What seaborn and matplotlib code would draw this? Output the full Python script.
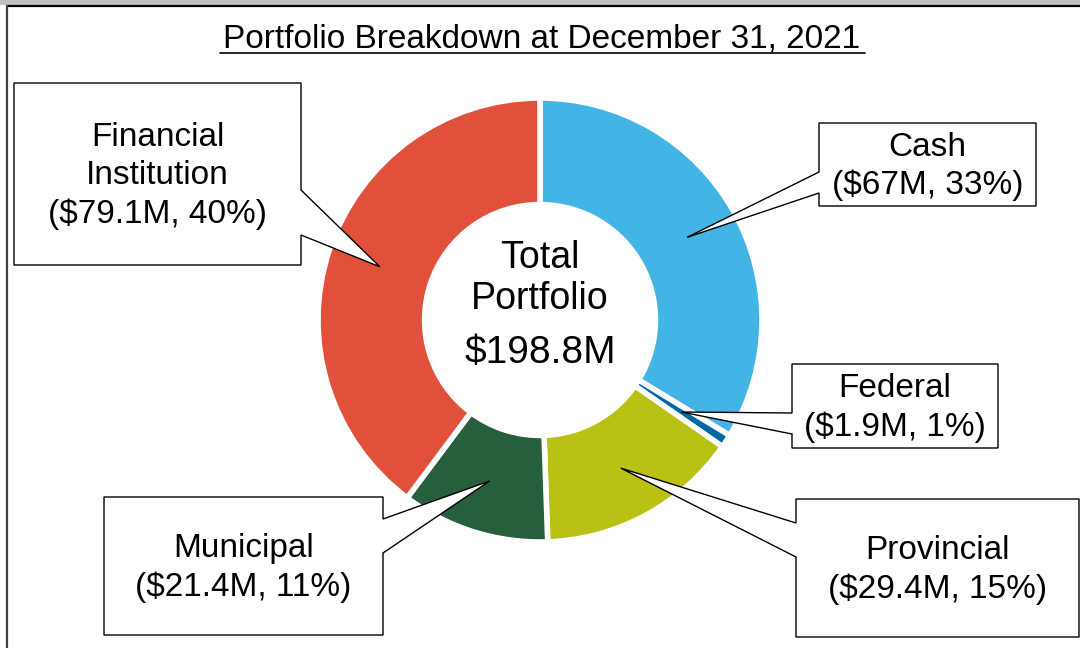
import seaborn as sns
import matplotlib.pyplot as plt
import numpy as np
from matplotlib.patches import Polygon, Rectangle

# data
categories = ['Cash', 'Federal', 'Provincial', 'Municipal', 'Financial\nInstitution']
amounts = [67, 1.9, 29.4, 21.4, 79.1]
percents = [33, 1, 15, 11, 40]
colors = ['#42B4E6', '#0067A3', '#B9C214', '#275E3B', '#E0503A']
total = 198.8
title = 'Portfolio Breakdown at December 31, 2021'

# callout boxes in pixels (x0, y0, x1, y1), side of pointer, pointer base on that side
boxes = [(819, 123, 1036, 206, 'left', 172, 193),
         (792, 364, 998, 448, 'left', 413, 434),
         (796, 499, 1079, 637, 'left', 523, 557),
         (104, 497, 383, 635, 'right', 519, 553),
         (14, 83, 301, 265, 'right', 190, 235)]

sns.set_theme(style='white')
plt.rcParams['font.family'] = ['Liberation Sans', 'DejaVu Sans']

W, H = 1080, 648
fig = plt.figure(figsize=(W / 100, H / 100), dpi=100)
fig.patch.set_facecolor('white')

# donut
cx, cy, R = 540, 320, 222
ax = fig.add_axes([(cx - R) / W, (H - cy - R) / H, 2 * R / W, 2 * R / H])
pal = sns.color_palette(colors)
wedges, _ = ax.pie(amounts, colors=pal, startangle=90, counterclock=False,
                   radius=1, wedgeprops=dict(width=0.48, edgecolor='white', linewidth=4))
ax.set_xlim(-1, 1)
ax.set_ylim(-1, 1)
ax.set_aspect('equal')
ax.axis('off')

# overlay in pixel coords (y down)
ov = fig.add_axes([0, 0, 1, 1], zorder=5)
ov.set_xlim(0, W)
ov.set_ylim(H, 0)
ov.axis('off')

# frame
ov.add_patch(Rectangle((0, 0), W, 5, color='#C0C0C0', lw=0))
ov.plot([7, W], [5.5, 5.5], color='black', lw=1.6, solid_capstyle='butt')
ov.plot([7, 7], [5, H], color='#404040', lw=1.6, solid_capstyle='butt')

# title with underline
ov.text(542, 48, title, ha='center', va='baseline', fontsize=24, color='black')
ov.plot([220, 865], [53, 53], color='black', lw=1.2)

# centre text
ov.text(cx, 268, 'Total', ha='center', va='baseline', fontsize=27, color='black')
ov.text(cx, 309, 'Portfolio', ha='center', va='baseline', fontsize=27, color='black')
ov.text(cx, 363, f'${total:g}M', ha='center', va='baseline', fontsize=28, color='black')

to_px = ov.transData.inverted()
for w, name, amt, pct, b in zip(wedges, categories, amounts, percents, boxes):
    x0, y0, x1, y1, side, b0, b1 = b
    mid = np.deg2rad((w.theta1 + w.theta2) / 2)
    r = 0.76
    tip = to_px.transform(ax.transData.transform((r * np.cos(mid), r * np.sin(mid))))
    tip = (tip[0], tip[1])
    if side == 'right':
        pts = [(x0, y0), (x1, y0), (x1, b0), tip, (x1, b1), (x1, y1), (x0, y1)]
    else:
        pts = [(x0, y0), (x1, y0), (x1, y1), (x0, y1), (x0, b1), tip, (x0, b0)]
    ov.add_patch(Polygon(pts, closed=True, facecolor='white', edgecolor='black', lw=1))
    label = f'{name}\n(${amt:g}M, {pct}%)'
    ov.text((x0 + x1) / 2, (y0 + y1) / 2 + 2, label, ha='center', va='center',
            fontsize=24, linespacing=1.3, color='black')

fig.savefig('out.png', dpi=100)
